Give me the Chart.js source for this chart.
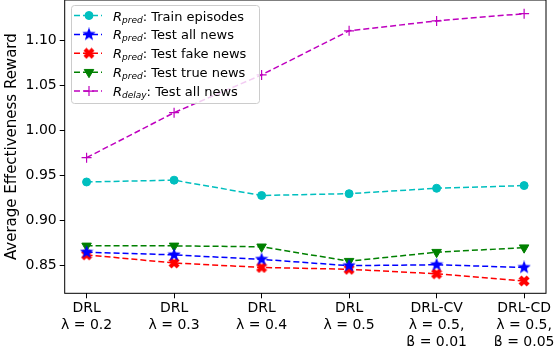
<!DOCTYPE html>
<html>
<head>
<meta charset="utf-8">
<script src="https://cdn.jsdelivr.net/npm/chart.js@4"></script>
<style>
  html, body { margin: 0; padding: 0; background: #fff; }
  #wrap { width: 556px; height: 346px; position: relative; }
</style>
</head>
<body>
<div id="wrap"><canvas id="chart" width="556" height="346"></canvas></div>
<script>
// data
const methods = ['DRL', 'DRL', 'DRL', 'DRL', 'DRL-CV', 'DRL-CD'];
const lambdas = ['λ = 0.2', 'λ = 0.3', 'λ = 0.4', 'λ = 0.5', 'λ = 0.5,', 'λ = 0.5,'];
const betas = ['', '', '', '', 'β = 0.01', 'β = 0.05'];
const trainEpisodes = [0.943, 0.945, 0.928, 0.930, 0.936, 0.939];
const testAllNews = [0.865, 0.862, 0.857, 0.850, 0.851, 0.848];
const testFakeNews = [0.862, 0.853, 0.848, 0.846, 0.841, 0.833];
const testTrueNews = [0.872, 0.872, 0.871, 0.855, 0.865, 0.870];
const delayAllNews = [0.970, 1.020, 1.062, 1.111, 1.122, 1.130];
const yTicks = [0.85, 0.90, 0.95, 1.00, 1.05, 1.10];

const FONT = 'DejaVu Sans';

// custom markers (matplotlib style star and filled X)
function makeMarker(size, color, draw) {
    const c = document.createElement('canvas');
    c.width = size; c.height = size;
    const g = c.getContext('2d');
    g.fillStyle = color;
    g.strokeStyle = color;
    draw(g, size / 2);
    return c;
}
const starMarker = makeMarker(14, '#0000ff', (g, r) => {
    g.beginPath();
    for (let i = 0; i < 10; i++) {
        const rad = i % 2 === 0 ? r : r * 0.42;
        const a = -Math.PI / 2 + i * Math.PI / 5;
        const x = r + rad * Math.cos(a), y = r + rad * Math.sin(a);
        if (i === 0) g.moveTo(x, y); else g.lineTo(x, y);
    }
    g.closePath();
    g.fill();
});
const xMarker = makeMarker(12, '#ff0000', (g, r) => {
    g.translate(r, r);
    g.rotate(Math.PI / 4);
    const a = r * 0.95, b = r * 0.35;
    g.beginPath();
    g.moveTo(-b, -a); g.lineTo(b, -a); g.lineTo(b, -b); g.lineTo(a, -b);
    g.lineTo(a, b); g.lineTo(b, b); g.lineTo(b, a); g.lineTo(-b, a);
    g.lineTo(-b, b); g.lineTo(-a, b); g.lineTo(-a, -b); g.lineTo(-b, -b);
    g.closePath();
    g.fill();
});

function series(label, sub, values, color, style, extra) {
    return Object.assign({
        label: label,
        sub: sub,
        data: values.map((v, i) => ({ x: i, y: v })),
        borderColor: color,
        backgroundColor: color,
        borderWidth: 1.5,
        borderDash: [6, 3],
        pointStyle: style,
        pointRadius: 4.5,
        pointBorderWidth: 1,
        tension: 0
    }, extra || {});
}

const datasets = [
    series(': Train episodes', 'pred', trainEpisodes, '#00bfbf', 'circle', { pointRadius: 4 }),
    series(': Test all news', 'pred', testAllNews, '#0000ff', starMarker),
    series(': Test fake news', 'pred', testFakeNews, '#ff0000', xMarker),
    series(': Test true news', 'pred', testTrueNews, '#008000', 'triangle', { pointRotation: 180, pointRadius: 5.5 }),
    series(': Test all news', 'delay', delayAllNews, '#bf00bf', 'cross', { pointRadius: 5, pointBorderWidth: 1.2 })
];

// frame around the plot and the legend drawn like matplotlib
const framePlugin = {
    id: 'frame',
    afterDraw(chart) {
        const { ctx, chartArea: a } = chart;
        ctx.save();
        ctx.strokeStyle = '#000';
        ctx.lineWidth = 1;
        ctx.strokeRect(a.left, a.top, a.right - a.left, a.bottom - a.top);

        // legend
        const bx = 71, by = 5, bw = 188, bh = 98;
        ctx.fillStyle = 'rgba(255,255,255,0.8)';
        ctx.strokeStyle = '#cccccc';
        ctx.beginPath();
        ctx.roundRect(bx + 0.5, by + 0.5, bw, bh, 3);
        ctx.fill();
        ctx.stroke();
        chart.data.datasets.forEach((ds, i) => {
            const y = 15.5 + i * 18.9;
            ctx.strokeStyle = ds.borderColor;
            ctx.fillStyle = ds.borderColor;
            ctx.lineWidth = 1.5;
            ctx.setLineDash([6, 3]);
            ctx.beginPath();
            ctx.moveTo(74, y); ctx.lineTo(102, y);
            ctx.stroke();
            ctx.setLineDash([]);
            ctx.lineWidth = ds.pointBorderWidth;
            Chart.helpers.drawPoint(ctx, {
                pointStyle: ds.pointStyle,
                rotation: ds.pointRotation || 0,
                radius: ds.pointRadius,
                borderWidth: ds.pointBorderWidth
            }, 89, y);
            // text: R_sub: label
            ctx.fillStyle = '#000';
            ctx.textBaseline = 'alphabetic';
            ctx.textAlign = 'left';
            let tx = 113;
            ctx.font = 'italic 13px ' + FONT;
            ctx.fillText('R', tx, y + 5);
            tx += ctx.measureText('R').width;
            ctx.font = 'italic 9px ' + FONT;
            ctx.fillText(ds.sub, tx, y + 7);
            tx += ctx.measureText(ds.sub).width;
            ctx.font = '13px ' + FONT;
            ctx.fillText(ds.label, tx, y + 5);
        });
        ctx.restore();
    }
};

new Chart(document.getElementById('chart'), {
    type: 'line',
    data: { datasets: datasets },
    options: {
        responsive: false,
        animation: false,
        layout: { autoPadding: false, padding: { top: 0, right: 10, left: 0, bottom: 0 } },
        plugins: {
            legend: { display: false },
            tooltip: { enabled: false }
        },
        scales: {
            x: {
                type: 'linear',
                min: -0.25,
                max: 5.25,
                afterBuildTicks: s => { s.ticks = methods.map((m, i) => ({ value: i })); },
                afterFit: s => { s.height = 52.7; s.paddingLeft = 0; s.paddingRight = 0; },
                grid: { drawOnChartArea: false, tickLength: 5, tickColor: '#000' },
                border: { display: false },
                ticks: {
                    color: '#000',
                    font: { family: FONT, size: 14 },
                    padding: 2,
                    maxRotation: 0,
                    autoSkip: false,
                    callback: v => {
                        const lines = [methods[v], lambdas[v]];
                        if (betas[v]) lines.push(betas[v]);
                        return lines;
                    }
                }
            },
            y: {
                min: 0.8193,
                max: 1.1452,
                afterBuildTicks: s => { s.ticks = yTicks.map(v => ({ value: v })); },
                afterFit: s => { s.width = 64.7; s.paddingTop = 0; s.paddingBottom = 0; },
                grid: { drawOnChartArea: false, tickLength: 5, tickColor: '#000' },
                border: { display: false },
                title: {
                    display: true,
                    text: 'Average Effectiveness Reward',
                    color: '#000',
                    font: { family: FONT, size: 15 },
                    padding: { top: 3, bottom: 2 }
                },
                ticks: {
                    color: '#000',
                    font: { family: FONT, size: 14 },
                    padding: 3,
                    callback: v => v.toFixed(2)
                }
            }
        }
    },
    plugins: [framePlugin]
});
</script>
</body>
</html>
